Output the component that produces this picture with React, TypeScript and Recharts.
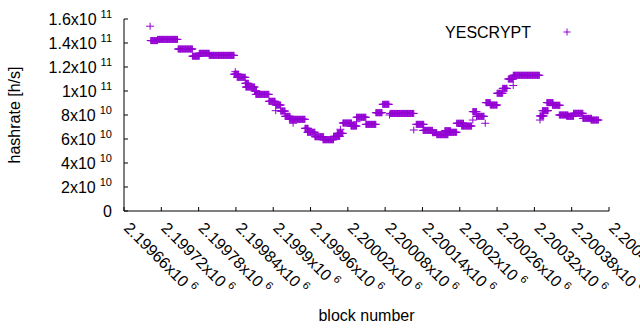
import React from 'react';
import { ScatterChart, Scatter, XAxis, YAxis, Legend } from 'recharts';

const seriesName = 'YESCRYPT';
const pointColor = '#9400d3';
const font = "'Liberation Sans', Arial, sans-serif";

const xTicks = [2199660, 2199720, 2199780, 2199840, 2199900, 2199960, 2200020, 2200080, 2200140, 2200200, 2200260, 2200320, 2200380, 2200440];
const xTickLabels = ['2.19966', '2.19972', '2.19978', '2.19984', '2.1999', '2.19996', '2.20002', '2.20008', '2.20014', '2.2002', '2.20026', '2.20032', '2.20038', '2.20044'];
const xTickExp = '6';

const yTicks = [0, 2e10, 4e10, 6e10, 8e10, 1e11, 1.2e11, 1.4e11, 1.6e11];
const yTickLabels = ['0', '2', '4', '6', '8', '1', '1.2', '1.4', '1.6'];
const yTickExps = ['', '10', '10', '10', '10', '11', '11', '11', '11'];

// runs of blocks that share the same hashrate estimate
const runStart = [
  2199702, 2199703, 2199714, 2199747, 2199770, 2199781, 2199797, 2199839, 2199837, 2199842,
  2199855, 2199856, 2199870, 2199872, 2199893, 2199904, 2199904, 2199912, 2199919, 2199926,
  2199932, 2199951, 2199955, 2199967, 2199980, 2199997, 2200003, 2200008, 2200012, 2200025,
  2200034, 2200034, 2200049, 2200065, 2200076, 2200087, 2200088, 2200126, 2200130, 2200141,
  2200156, 2200163, 2200176, 2200183, 2200195, 2200203, 2200221, 2200221, 2200227, 2200241,
  2200242, 2200249, 2200260, 2200269, 2200278, 2200286, 2200286, 2200329, 2200329, 2200333,
  2200340, 2200349, 2200360, 2200372, 2200383, 2200398, 2200411,
];
const runEnd = [
  2199702, 2199714, 2199746, 2199770, 2199781, 2199797, 2199837, 2199839, 2199844, 2199855,
  2199860, 2199870, 2199873, 2199893, 2199903, 2199912, 2199904, 2199919, 2199927, 2199951,
  2199932, 2199956, 2199967, 2199981, 2199997, 2200007, 2200012, 2200008, 2200026, 2200034,
  2200034, 2200049, 2200065, 2200075, 2200086, 2200087, 2200126, 2200126, 2200142, 2200156,
  2200163, 2200181, 2200185, 2200195, 2200206, 2200219, 2200221, 2200227, 2200239, 2200241,
  2200249, 2200260, 2200269, 2200276, 2200286, 2200286, 2200328, 2200329, 2200335, 2200342,
  2200350, 2200361, 2200374, 2200383, 2200398, 2200412, 2200423,
];
const runRate = [
  1.54e11, 1.42e11, 1.43e11, 1.35e11, 1.29e11, 1.314e11, 1.297e11, 1.161e11, 1.14e11, 1.114e11,
  1.064e11, 1.033e11, 1.0e11, 9.72e10, 9.14e10, 8.83e10, 8.36e10, 8.33e10, 7.89e10, 7.64e10,
  7.31e10, 6.89e10, 6.56e10, 6.19e10, 5.94e10, 6.22e10, 6.47e10, 6.81e10, 7.33e10, 7.08e10,
  7.44e10, 7.81e10, 7.22e10, 8.19e10, 8.89e10, 8.0e10, 8.13e10, 6.75e10, 7.22e10, 6.72e10,
  6.53e10, 6.36e10, 6.69e10, 6.56e10, 7.31e10, 7.08e10, 7.58e10, 8.28e10, 7.89e10, 7.31e10,
  9.03e10, 8.83e10, 9.81e10, 1.022e11, 1.10e11, 1.046e11, 1.131e11, 7.58e10, 7.92e10, 8.36e10,
  9.03e10, 8.81e10, 8.0e10, 7.89e10, 8.14e10, 7.72e10, 7.58e10,
];

const points: { block: number; rate: number }[] = [];
runStart.forEach((start, i) => {
  for (let b = start; b <= runEnd[i]; b++) points.push({ block: b, rate: runRate[i] });
});

const Cross = (props: any) => {
  const { cx, cy } = props;
  return (
    <path
      d={`M${cx - 4},${cy}H${cx + 4}M${cx},${cy - 3.5}V${cy + 3.5}`}
      stroke={pointColor}
      strokeWidth={1}
      fill="none"
    />
  );
};

const BottomTick = (props: any) => {
  const { x, y, index } = props;
  const tx = x - 1;
  const ty = y + 18;
  return (
    <g>
      <line x1={x} y1={y} x2={x} y2={y - 4} stroke="#000" />
      <text x={tx} y={ty} transform={`rotate(45, ${tx}, ${ty})`} fontSize={16} fontFamily={font} fill="#000" textAnchor="start">
        {xTickLabels[index]}x10
        <tspan dx={4} dy={-7} fontSize={11}>{xTickExp}</tspan>
      </text>
    </g>
  );
};

const TopTick = (props: any) => {
  const { x, y } = props;
  return <line x1={x} y1={y} x2={x} y2={y + 4} stroke="#000" />;
};

const LeftTick = (props: any) => {
  const { x, y, index } = props;
  const exp = yTickExps[index];
  return (
    <g>
      <line x1={x} y1={y} x2={x + 4} y2={y} stroke="#000" />
      <text x={x - 12} y={y + 6} fontSize={16} fontFamily={font} fill="#000" textAnchor="end">
        {exp ? `${yTickLabels[index]}x10` : yTickLabels[index]}
        {exp && <tspan dx={4} dy={-7} fontSize={11}>{exp}</tspan>}
      </text>
    </g>
  );
};

const RightTick = (props: any) => {
  const { x, y } = props;
  return <line x1={x} y1={y} x2={x - 4} y2={y} stroke="#000" />;
};

const YTitle = (props: any) => {
  const { viewBox } = props;
  const cx = viewBox.x + 20;
  const cy = viewBox.y + viewBox.height / 2;
  return (
    <text x={cx} y={cy} transform={`rotate(-90, ${cx}, ${cy})`} textAnchor="middle" fontSize={16} fontFamily={font} fill="#000">
      hashrate [h/s]
    </text>
  );
};

const XTitle = (props: any) => {
  const { viewBox } = props;
  return (
    <text x={viewBox.x + viewBox.width / 2} y={321} textAnchor="middle" fontSize={16} fontFamily={font} fill="#000">
      block number
    </text>
  );
};

const KeyBox = () => (
  <svg width={150} height={26} style={{ display: 'block' }}>
    <text x={91} y={20} textAnchor="end" fontSize={16} fontFamily={font} fill="#000">{seriesName}</text>
    <path d="M123.5,14H130.5M127,10.5V17.5" stroke={pointColor} strokeWidth={1} fill="none" />
  </svg>
);

const App: React.FC = () => {
  const axisLine = { stroke: '#000', strokeWidth: 1 };
  return (
    <div style={{ position: 'absolute', left: 0, top: 0, width: 640, height: 330, overflow: 'hidden', background: '#fff' }}>
      <ScatterChart width={640} height={330} margin={{ top: 19, right: 31, bottom: 0, left: 0 }}>
        <XAxis
          xAxisId="bottom"
          type="number"
          dataKey="block"
          domain={[2199660, 2200440]}
          ticks={xTicks}
          interval={0}
          allowDataOverflow
          height={119}
          tickSize={0}
          tickMargin={0}
          tickLine={false}
          axisLine={axisLine}
          tick={<BottomTick />}
          label={<XTitle />}
        />
        <XAxis
          xAxisId="top"
          orientation="top"
          type="number"
          dataKey="block"
          domain={[2199660, 2200440]}
          ticks={xTicks}
          interval={0}
          allowDataOverflow
          height={0}
          tickSize={0}
          tickMargin={0}
          tickLine={false}
          axisLine={axisLine}
          tick={<TopTick />}
        />
        <YAxis
          yAxisId="left"
          type="number"
          dataKey="rate"
          domain={[0, 1.6e11]}
          ticks={yTicks}
          interval={0}
          allowDataOverflow
          width={124}
          tickSize={0}
          tickMargin={0}
          tickLine={false}
          axisLine={axisLine}
          tick={<LeftTick />}
          label={<YTitle />}
        />
        <YAxis
          yAxisId="right"
          orientation="right"
          type="number"
          dataKey="rate"
          domain={[0, 1.6e11]}
          ticks={yTicks}
          interval={0}
          allowDataOverflow
          width={0}
          tickSize={0}
          tickMargin={0}
          tickLine={false}
          axisLine={axisLine}
          tick={<RightTick />}
        />
        <Legend
          layout="horizontal"
          verticalAlign="middle"
          align="center"
          wrapperStyle={{ left: 440, top: 18, width: 150, height: 26 }}
          content={<KeyBox />}
        />
        <Scatter
          name={seriesName}
          data={points}
          xAxisId="bottom"
          yAxisId="left"
          shape={<Cross />}
          isAnimationActive={false}
        />
      </ScatterChart>
    </div>
  );
};

export default App;
